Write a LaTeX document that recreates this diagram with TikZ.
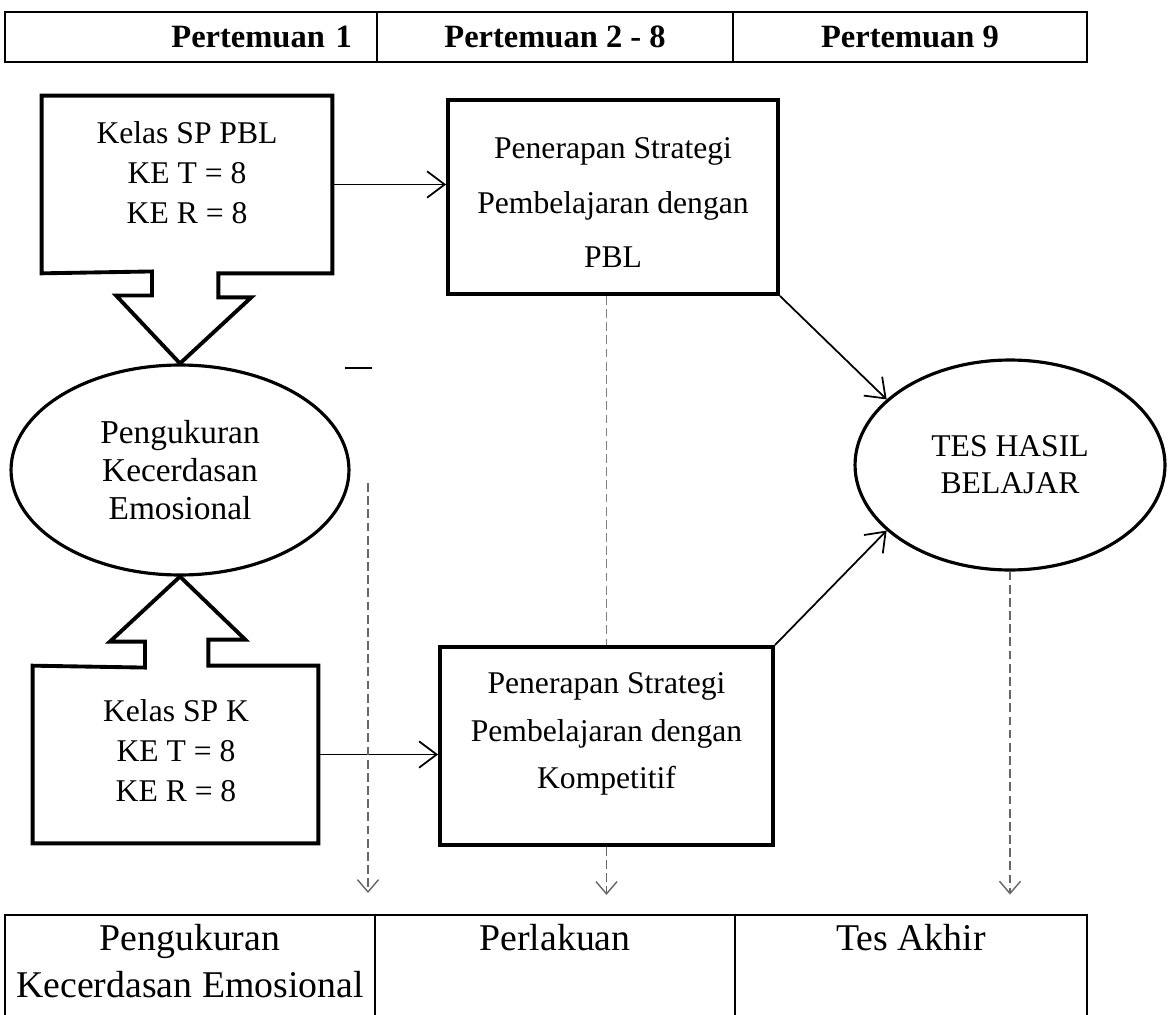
\documentclass[tikz,border=0pt]{standalone}
\usepackage{fontspec}
\setmainfont{Liberation Serif}
\usetikzlibrary{arrows.meta,positioning,shapes.geometric}

\begin{document}
\begin{tikzpicture}[
      x=0.02cm,y=-0.02cm,
      hcell/.style={rectangle,draw,line width=1.2pt,minimum height=1cm,inner sep=0pt,
        font=\fontsize{18.5}{22}\selectfont\bfseries},
      bcell/.style={rectangle,draw,line width=1.2pt,minimum height=2.1cm,inner sep=0pt},
      btext/.style={align=center,inner sep=2pt,font=\fontsize{21.5}{27}\selectfont},
      kelas/.style={rectangle,minimum height=3.54cm,inner sep=0pt},
      ktext/.style={align=center,inner sep=0pt,font=\fontsize{18}{22.8}\selectfont},
      strategi/.style={rectangle,draw,line width=2.2pt,inner sep=0pt},
      stext/.style={align=center,inner sep=0pt,font=\fontsize{18}{#1}\selectfont},
      oval/.style={ellipse,draw,line width=1.8pt,align=center,inner sep=0pt,
        font=\fontsize{19}{21.8}\selectfont},
      callout/.style={line width=2.2pt,line join=miter},
      arr/.style={-{Straight Barb[length=10pt,width=15pt]},line width=1pt},
      dasharr/.style={-{Straight Barb[length=7pt,width=12pt]},line width=0.8pt,black!60,
        dash pattern=on 5pt off 2.5pt},
      dashline/.style={line width=0.8pt,black!50,dash pattern=on 5pt off 2.5pt}
    ]
    \useasboundingbox (0,0) rectangle (1168,1014);

    % header row
    \node[hcell,minimum width=7.44cm,text width=6.44cm,align=right] (h1) at (191,37) {Pertemuan 1};
    \node[hcell,minimum width=7.12cm] (h2) at (555,37) {Pertemuan 2 - 8};
    \node[hcell,minimum width=7.08cm] (h3) at (910,37) {Pertemuan 9};

    % classes and measurement
    \node[kelas,minimum width=5.8cm] (pbl) at (187,184.5) {};
    \node[ktext] (pblt) at (187,173) {Kelas SP PBL\\KE T = 8\\KE R = 8};
    \node[oval,minimum width=6.76cm,minimum height=4.2cm] (ukur) at (180,470) {Pengukuran\\Kecerdasan\\Emosional};
    \node[kelas,minimum width=5.7cm] (kk) at (175.5,754.5) {};
    \node[ktext] (kkt) at (176,751) {Kelas SP K\\KE T = 8\\KE R = 8};

    \draw[callout] (pbl.south west) -- (pbl.north west) -- (pbl.north east) -- (pbl.south east)
      -- ++(-114,0) -- ++(0,24) -- ++(33,0) -- (ukur.north) -- ++(-64,-68) -- ++(36,0) -- ++(0,-24) -- cycle;
    \draw[callout] (kk.north west) -- (kk.south west) -- (kk.south east) -- (kk.north east)
      -- ++(-110,0) -- ++(0,-26) -- ++(37,0) -- (ukur.south) -- ++(-70,65) -- ++(35,0) -- ++(0,26) -- cycle;
    \draw[line width=1.5pt] (345,368) -- (372,368);

    % treatments
    \node[strategi,minimum width=6.6cm,minimum height=3.88cm] (pblbox) at (613,197) {};
    \node[stext=31] (pblt2) at (613,203) {Penerapan Strategi\\Pembelajaran dengan\\PBL};
    \node[strategi,minimum width=6.66cm,minimum height=3.96cm] (kompbox) at (606.5,746) {};
    \node[stext=27] (kompt) at (606.5,734) {Penerapan Strategi\\Pembelajaran dengan\\Kompetitif};

    % final test
    \node[oval,minimum width=6.2cm,minimum height=4.2cm,font=\fontsize{18}{21}\selectfont] (tes) at (1010,465)
      {TES HASIL\\BELAJAR};

    % bottom row
    \node[bcell,minimum width=7.4cm] (b1) at (190,967.5) {};
    \node[bcell,minimum width=7.2cm] (b2) at (555,967.5) {};
    \node[bcell,minimum width=7.04cm] (b3) at (911,967.5) {};
    \node[btext,below=0.12cm of b1.north] (t1) {Pengukuran\\Kecerdasan Emosional};
    \node[btext,below=0.12cm of b2.north] (t2) {Perlakuan};
    \node[btext,below=0.12cm of b3.north] (t3) {Tes Akhir};

    \draw[arr] (pbl.east) -- (pbl.east -| pblbox.west);
    \draw[arr] (kk.east) -- (kk.east -| kompbox.west);
    \draw[arr] (pblbox.south east) -- (tes.152);
    \draw[arr] (kompbox.north east) -- (tes.208);

    \coordinate (dl) at (368,483);
    \coordinate (dlend) at (368,893);
    \draw[dasharr] (dl) -- (dlend);
    \draw[dashline] (pblbox.south -| kompbox.north) -- (kompbox.north);
    \draw[dasharr] (kompbox.south) -- ++(0,48);
    \draw[dasharr] (tes.south) -- ++(0,323);
  \end{tikzpicture}
\end{document}
